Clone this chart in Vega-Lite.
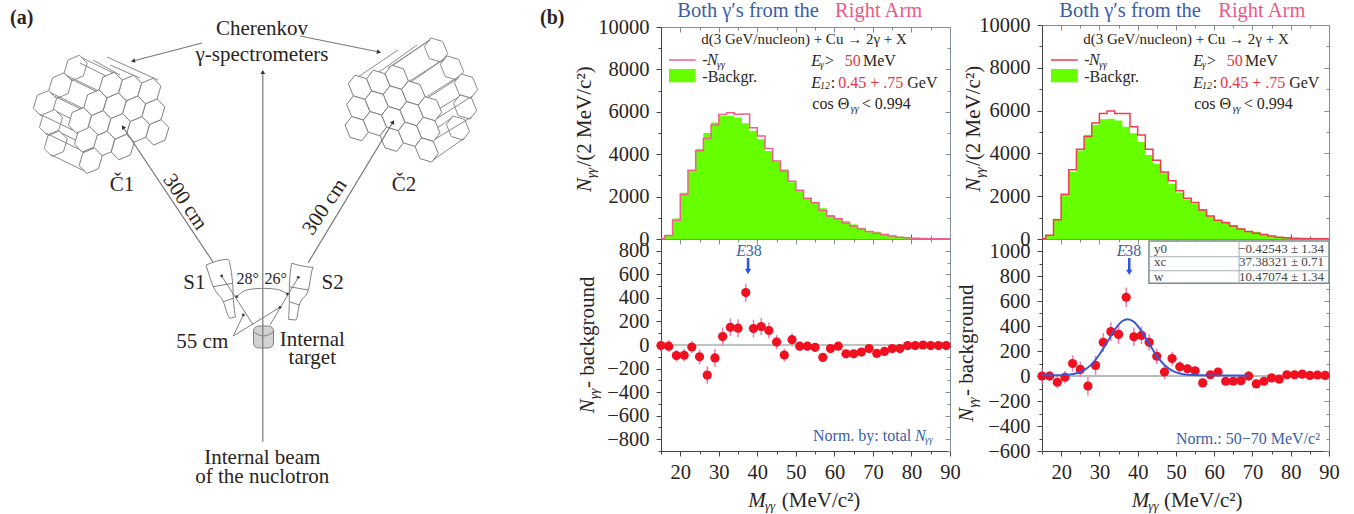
{"$schema":"https://vega.github.io/schema/vega-lite/v6.json","padding":0,"background":"white","config":{"view":{"stroke":null}},"spacing":-5,"hconcat":[
{"width":578,"height":514,
"encoding":{"x":{"field":"x","type":"quantitative","axis":null,"scale":{"domain":[0,578],"nice":false,"zero":false}},"y":{"field":"y","type":"quantitative","axis":null,"scale":{"domain":[0,514],"nice":false,"zero":false,"reverse":true}}},
"layer":[
{"data":{"values":[{"x":75.7,"y":68},{"x":60.3,"y":85.7},{"x":45,"y":103.3},{"x":51,"y":122.3},{"x":55.7,"y":143.7}]},"mark":{"type":"point","shape":"M-3.77,12.8L-11.53,4.9L-7.77,-7.9L3.77,-12.8L11.53,-4.9L7.77,7.9Z","filled":true,"fill":"#fff","stroke":"#8a8a8a","strokeWidth":1,"opacity":1,"size":4}},
{"data":{"values":[{"x":436,"y":50},{"x":452,"y":68},{"x":466,"y":86},{"x":465,"y":107},{"x":458,"y":128}]},"mark":{"type":"point","shape":"M5,12.1L11.67,3.56L6.67,-8.56L-5,-12.1L-11.67,-3.56L-6.67,8.56Z","filled":true,"fill":"#fff","stroke":"#8a8a8a","strokeWidth":1,"opacity":1,"size":4}},
{"data":{"values":[
{"x":115.9,"y":74.2,"x2":80.9,"y2":57.2},{"x":105.5,"y":95.8,"x2":70.5,"y2":78.8},{"x":100.5,"y":91.9,"x2":65.5,"y2":74.9},{"x":90.1,"y":113.5,"x2":55.1,"y2":96.5},{"x":85.2,"y":109.5,"x2":50.2,"y2":92.5},{"x":74.8,"y":131.1,"x2":39.8,"y2":114.1},{"x":91.2,"y":128.5,"x2":56.2,"y2":111.5},{"x":80.8,"y":150.1,"x2":45.8,"y2":133.1},{"x":95.9,"y":149.9,"x2":60.9,"y2":132.9},{"x":85.5,"y":171.5,"x2":50.5,"y2":154.5},
{"x":107,"y":57,"x2":158,"y2":80},{"x":93,"y":60,"x2":120,"y2":75},{"x":110,"y":65,"x2":140,"y2":78},{"x":80,"y":63,"x2":110,"y2":78},
{"x":403.2,"y":87.3,"x2":442.5,"y2":60},{"x":390.2,"y":67.3,"x2":429.5,"y2":40},{"x":419.8,"y":103,"x2":458.5,"y2":78},{"x":406.8,"y":83,"x2":445.5,"y2":58},{"x":436.5,"y":118.7,"x2":472.5,"y2":96},{"x":423.5,"y":98.7,"x2":459.5,"y2":76},{"x":434.8,"y":139.3,"x2":471.5,"y2":117},{"x":421.8,"y":119.3,"x2":458.5,"y2":97},{"x":433.2,"y":160,"x2":464.5,"y2":138},{"x":420.2,"y":140,"x2":451.5,"y2":118},
{"x":358,"y":77,"x2":398,"y2":50},{"x":375,"y":75,"x2":417,"y2":45},{"x":388,"y":68,"x2":430,"y2":40}
]},"mark":{"type":"rule","color":"#8a8a8a","strokeWidth":1},"encoding":{"x2":{"field":"x2"},"y2":{"field":"y2"}}},
{"data":{"values":[{"x":157.3,"y":132.3},{"x":153.3,"y":111.7},{"x":149.3,"y":91},{"x":138,"y":129.3},{"x":134,"y":108.7},{"x":130,"y":88},{"x":122.7,"y":147},{"x":118.7,"y":126.3},{"x":114.7,"y":105.7},{"x":110.7,"y":85},{"x":103.3,"y":144},{"x":99.3,"y":123.3},{"x":95.3,"y":102.7},{"x":86,"y":139.3},{"x":90.7,"y":160.7},{"x":80,"y":120.3}]},"mark":{"type":"point","shape":"M-3.77,12.8L-11.53,4.9L-7.77,-7.9L3.77,-12.8L11.53,-4.9L7.77,7.9Z","filled":true,"fill":"#fff","stroke":"#808080","strokeWidth":1,"opacity":1,"size":4}},
{"data":{"values":[{"x":360,"y":87.3},{"x":378.3,"y":82.3},{"x":396.7,"y":77.3},{"x":358.3,"y":108},{"x":376.7,"y":103},{"x":395,"y":98},{"x":413.3,"y":93},{"x":356.7,"y":128.7},{"x":375,"y":123.7},{"x":393.3,"y":118.7},{"x":411.7,"y":113.7},{"x":430,"y":108.7},{"x":391.7,"y":139.3},{"x":410,"y":134.3},{"x":428.3,"y":129.3},{"x":426.7,"y":150}]},"mark":{"type":"point","shape":"M5,12.1L11.67,3.56L6.67,-8.56L-5,-12.1L-11.67,-3.56L-6.67,8.56Z","filled":true,"fill":"#fff","stroke":"#808080","strokeWidth":1,"opacity":1,"size":4}},
{"data":{"values":[{"x":253.5,"y":326,"x2":273.5,"y2":348}]},"mark":{"type":"rect","fill":"#d2d2d2","stroke":"#808080","strokeWidth":1,"cornerRadius":5},"encoding":{"x2":{"field":"x2"},"y2":{"field":"y2"}}},
{"data":{"values":[{"x":262.8,"y":441.7,"x2":262.8,"y2":72},{"x":213,"y":262,"x2":123,"y2":127},{"x":308,"y":263,"x2":393,"y2":122},{"x":202,"y":43,"x2":133,"y2":61},{"x":300,"y":36,"x2":379,"y2":52}]},"mark":{"type":"rule","color":"#777777","strokeWidth":1.2},"encoding":{"x2":{"field":"x2"},"y2":{"field":"y2"}}},
{"data":{"values":[{"x":221.7,"y":276,"x2":253.3,"y2":325},{"x":298.3,"y":277.3,"x2":270,"y2":325},{"x":233.3,"y":336,"x2":243.3,"y2":315},{"x":233.3,"y":336,"x2":280,"y2":307.3}]},"mark":{"type":"rule","color":"#808080","strokeWidth":1},"encoding":{"x2":{"field":"x2"},"y2":{"field":"y2"}}},
{"data":{"values":[
{"g":"S1","i":0,"x":206,"y":265},{"g":"S1","i":1,"x":227.7,"y":259.3},{"g":"S1","i":2,"x":232.7,"y":283.3},{"g":"S1","i":3,"x":233.3,"y":298.3},{"g":"S1","i":4,"x":236,"y":316.7},{"g":"S1","i":5,"x":230,"y":318.3},{"g":"S1","i":6,"x":223.3,"y":301.7},{"g":"S1","i":7,"x":213.3,"y":286.7},{"g":"S1","i":8,"x":206,"y":265},
{"g":"S1a","i":0,"x":213.3,"y":286.7},{"g":"S1a","i":1,"x":232.7,"y":283.3},
{"g":"S1b","i":0,"x":223.3,"y":301.7},{"g":"S1b","i":1,"x":233.3,"y":298.3},
{"g":"S2","i":0,"x":291.7,"y":263.3},{"g":"S2","i":1,"x":313.3,"y":267.3},{"g":"S2","i":2,"x":308.3,"y":290},{"g":"S2","i":3,"x":299.3,"y":305},{"g":"S2","i":4,"x":296,"y":320},{"g":"S2","i":5,"x":288.3,"y":319.3},{"g":"S2","i":6,"x":289.3,"y":303.3},{"g":"S2","i":7,"x":289.3,"y":286.7},{"g":"S2","i":8,"x":291.7,"y":263.3},
{"g":"S2a","i":0,"x":289.3,"y":286.7},{"g":"S2a","i":1,"x":308.3,"y":290},
{"g":"S2b","i":0,"x":289.3,"y":301.7},{"g":"S2b","i":1,"x":299.3,"y":305},
{"g":"arc","i":0,"x":236.7,"y":296.7},{"g":"arc","i":1,"x":246.7,"y":290},{"g":"arc","i":2,"x":263.3,"y":288.3},{"g":"arc","i":3,"x":276.7,"y":289.3},{"g":"arc","i":4,"x":287.3,"y":294},
{"g":"t","i":0,"x":253.5,"y":332},{"g":"t","i":1,"x":263.5,"y":336},{"g":"t","i":2,"x":273.5,"y":332}
]},"mark":{"type":"line","color":"#808080","strokeWidth":1,"interpolate":"monotone"},"encoding":{"detail":{"field":"g"},"order":{"field":"i"}}},
{"data":{"values":[{"x":236.7,"y":296.7},{"x":287.3,"y":294},{"x":243.3,"y":315},{"x":280,"y":307.3},{"x":221.7,"y":276},{"x":298.3,"y":277.3}]},"mark":{"type":"point","filled":true,"color":"#444444","opacity":1,"size":8}},
{"data":{"values":[{"x":133,"y":61,"h":255.4},{"x":379,"y":52,"h":101.4},{"x":262.8,"y":72,"h":0},{"x":123,"y":127,"h":326.3},{"x":393,"y":122,"h":31}]},"mark":{"type":"point","shape":"triangle-up","filled":true,"color":"#333333","opacity":1,"size":22},"encoding":{"angle":{"field":"h","type":"quantitative","scale":null}}},
{"data":{"values":[{"x":10,"y":24,"t":"(a)"},{"x":540,"y":24,"t":"(b)"}]},"mark":{"type":"text","font":"Liberation Serif","fontWeight":"bold","fontSize":20,"align":"left","baseline":"alphabetic","color":"#2a2422"},"encoding":{"text":{"field":"t"}}},
{"data":{"values":[{"x":262,"y":35,"t":"Cherenkov"},{"x":262,"y":61,"t":"γ-spectrometers"},{"x":122,"y":191,"t":"Č1"},{"x":404,"y":191,"t":"Č2"},{"x":194.3,"y":289.3,"t":"S1"},{"x":332.7,"y":289.3,"t":"S2"},{"x":202.3,"y":348.3,"t":"55 cm"},{"x":312.3,"y":346,"t":"Internal"},{"x":312.3,"y":364.3,"t":"target"},{"x":262.3,"y":464.3,"t":"Internal beam"},{"x":262.3,"y":483.3,"t":"of the nuclotron"}]},"mark":{"type":"text","font":"Liberation Serif","fontSize":21,"align":"center","baseline":"alphabetic","color":"#2a2422"},"encoding":{"text":{"field":"t"}}},
{"data":{"values":[{"x":247.7,"y":284,"t":"28°"},{"x":275.7,"y":284,"t":"26°"}]},"mark":{"type":"text","font":"Liberation Serif","fontSize":16,"align":"center","baseline":"alphabetic","color":"#2a2422"},"encoding":{"text":{"field":"t"}}},
{"data":{"values":[{"x":185,"y":202,"t":"300 cm"}]},"mark":{"type":"text","font":"Liberation Serif","fontSize":21,"align":"center","baseline":"middle","angle":56,"color":"#2a2422"},"encoding":{"text":{"field":"t"}}},
{"data":{"values":[{"x":325,"y":207,"t":"300 cm"}]},"mark":{"type":"text","font":"Liberation Serif","fontSize":21,"align":"center","baseline":"middle","angle":304,"color":"#2a2422"},"encoding":{"text":{"field":"t"}}}
]},
{"spacing":0,"bounds":"flush","vconcat":[
{"width":289,"height":27,"encoding":{"x":{"field":"x","type":"quantitative","axis":null,"scale":{"domain":[15,90],"nice":false,"zero":false}},"y":{"field":"y","type":"quantitative","axis":null,"scale":{"domain":[0,1],"nice":false}},"text":{"field":"t"}},"layer":[
{"data":{"values":[{"x":19.23,"y":0.38,"t":"Both  γ′s from the"}]},"mark":{"type":"text","font":"Liberation Serif","fontSize":20.5,"align":"left","baseline":"alphabetic","color":"#3b5ea8"}},
{"data":{"values":[{"x":60.16,"y":0.38,"t":"Right Arm"}]},"mark":{"type":"text","font":"Liberation Serif","fontSize":20.5,"align":"left","baseline":"alphabetic","color":"#ee5a85"}}
]},
{"width":289,"height":212,"data":{"name":"L"},"resolve":{"axis":{"x":"independent","y":"independent"}},"layer":[
{"mark":{"type":"area","interpolate":"step","clip":true,"color":"#66ff00"},"encoding":{
"x":{"field":"m","type":"quantitative","scale":{"domain":[15,90],"nice":false,"zero":false},"axis":{"orient":"bottom","title":null,"grid":false,"labels":false,"values":[15,20,25,30,35,40,45,50,55,60,65,70,75,80,85,90],"tickSize":{"condition":{"test":"datum.value % 10 === 0","value":-5},"value":-3},"domainColor":"#333333","tickColor":"#555555"}},
"y":{"field":"bg","type":"quantitative","scale":{"domain":[0,10000],"nice":false},"axis":{"orient":"left","title":null,"grid":false,"values":[0,1000,2000,3000,4000,5000,6000,7000,8000,9000,10000],"labelExpr":"datum.value % 2000 === 0 ? format(datum.value,'d') : ''","tickSize":{"condition":{"test":"datum.value % 2000 === 0","value":5},"value":3},"labelPadding":7,"labelFont":"Liberation Serif","labelFontSize":20.5,"labelColor":"#2a2422","labelOverlap":false,"labelBound":false,"domainColor":"#444444","tickColor":"#444444"}}}},
{"mark":{"type":"line","interpolate":"step","clip":true,"color":"#f0608f","strokeWidth":1.5},"encoding":{
"x":{"field":"m","type":"quantitative","axis":{"orient":"top","title":null,"grid":false,"labels":false,"values":[15,20,25,30,35,40,45,50,55,60,65,70,75,80,85,90],"tickSize":{"condition":{"test":"datum.value % 10 === 0","value":-5},"value":-3},"domainColor":"#7f8f95","tickColor":"#7f8f95"}},
"y":{"field":"n","type":"quantitative","axis":{"orient":"right","title":null,"grid":false,"labels":false,"values":[0,1000,2000,3000,4000,5000,6000,7000,8000,9000,10000],"tickSize":{"condition":{"test":"datum.value % 2000 === 0","value":-5},"value":-3},"domainColor":"#7f8f95","tickColor":"#7f8f95"}}}},
{"encoding":{"x":{"field":"x","type":"quantitative","axis":null},"y":{"field":"y","type":"quantitative","axis":null}},"layer":[
{"data":{"values":[{"x":17.08,"x2":24,"y":8019,"y2":7392}]},"mark":{"type":"rect","color":"#66ff00"},"encoding":{"x2":{"field":"x2"},"y2":{"field":"y2"}}},
{"data":{"values":[{"x":17.08,"x2":24,"y":8443}]},"mark":{"type":"rule","color":"#f0608f","strokeWidth":1.5},"encoding":{"x2":{"field":"x2"}}},
{"data":{"values":[{"x":52.11,"y":9198,"t":"d(3 GeV/nucleon) + Cu → 2γ + X"}]},"mark":{"type":"text","font":"Liberation Serif","fontSize":15,"align":"center","baseline":"alphabetic","color":"#2a2422"},"encoding":{"text":{"field":"t"}}},
{"data":{"values":[{"x":25.72,"y":8208,"t":"-"},{"x":25.72,"y":7392,"t":"-Backgr."},{"x":57.56,"y":8160,"t":">"},{"x":67.43,"y":8160,"t":"MeV"},{"x":59.04,"y":7137,"t":":"},{"x":78.92,"y":7137,"t":"GeV"},{"x":54.27,"y":6132,"t":"cos Θ"},{"x":67.09,"y":6132,"t":"< 0.994"}]},"mark":{"type":"text","font":"Liberation Serif","fontSize":16,"align":"left","baseline":"alphabetic","color":"#2a2422"},"encoding":{"text":{"field":"t"}}},
{"data":{"values":[{"x":62.68,"y":8160,"t":"50"},{"x":61.02,"y":7137,"t":"0.45 + .75"}]},"mark":{"type":"text","font":"Liberation Serif","fontSize":16,"align":"left","baseline":"alphabetic","color":"#e8343f"},"encoding":{"text":{"field":"t"}}},
{"data":{"values":[{"x":26.94,"y":8208,"t":"N"},{"x":54.01,"y":8160,"t":"E"},{"x":54.01,"y":7137,"t":"E"}]},"mark":{"type":"text","font":"Liberation Serif","fontStyle":"italic","fontSize":16,"align":"left","baseline":"alphabetic","color":"#2a2422"},"encoding":{"text":{"field":"t"}}},
{"data":{"values":[{"x":29.53,"y":8066,"t":"γγ"},{"x":56.27,"y":8066,"t":"γ"},{"x":56.27,"y":7052,"t":"12"},{"x":64.23,"y":5991,"t":"γγ"}]},"mark":{"type":"text","font":"Liberation Serif","fontStyle":"italic","fontSize":10,"align":"left","baseline":"alphabetic","color":"#2a2422"},"encoding":{"text":{"field":"t"}}},
{"data":{"values":[{"x":-3.25,"y":2217,"t":"N"}]},"mark":{"type":"text","font":"Liberation Serif","fontStyle":"italic","fontSize":21,"align":"left","baseline":"alphabetic","angle":270,"color":"#2a2422"},"encoding":{"text":{"field":"t"}}},
{"data":{"values":[{"x":-2.2,"y":2877,"t":"γγ"}]},"mark":{"type":"text","font":"Liberation Serif","fontStyle":"italic","fontSize":13,"align":"left","baseline":"alphabetic","angle":270,"color":"#2a2422"},"encoding":{"text":{"field":"t"}}},
{"data":{"values":[{"x":-3.25,"y":3420,"t":"/(2 MeV/c²)"}]},"mark":{"type":"text","font":"Liberation Serif","fontSize":21,"align":"left","baseline":"alphabetic","angle":270,"color":"#2a2422"},"encoding":{"text":{"field":"t"}}}
]}
]},
{"width":289,"height":212,"data":{"name":"L"},"resolve":{"axis":{"x":"independent","y":"independent"}},"layer":[
{"data":{"values":[{"z":0}]},"mark":{"type":"rule","color":"#7e8c84","strokeWidth":1.2},"encoding":{"y":{"field":"z","type":"quantitative","axis":null}}},
{"mark":{"type":"rule","color":"#f27ab0","strokeWidth":1.5},"encoding":{
"x":{"field":"m","type":"quantitative","scale":{"domain":[15,90],"nice":false,"zero":false},"axis":{"orient":"bottom","title":null,"grid":false,"values":[15,20,25,30,35,40,45,50,55,60,65,70,75,80,85,90],"labelExpr":"datum.value % 10 === 0 ? format(datum.value,'d') : ''","tickSize":{"condition":{"test":"datum.value % 10 === 0","value":5},"value":3},"labelPadding":6,"labelFont":"Liberation Serif","labelFontSize":20.5,"labelColor":"#2a2422","labelOverlap":false,"labelBound":false,"labelFlush":false,"domainColor":"#444444","tickColor":"#444444"}},
"y":{"field":"lo","type":"quantitative","scale":{"domain":[-900,900],"nice":false,"zero":false},"axis":{"orient":"left","title":null,"grid":false,"values":[-900,-800,-700,-600,-500,-400,-300,-200,-100,0,100,200,300,400,500,600,700,800,900],"labelExpr":"datum.value % 200 === 0 ? replace(format(datum.value,'d'),'-','−') : ''","tickSize":{"condition":{"test":"datum.value % 200 === 0","value":5},"value":3},"labelPadding":7,"labelFont":"Liberation Serif","labelFontSize":20.5,"labelColor":"#2a2422","labelOverlap":false,"labelBound":false,"domainColor":"#444444","tickColor":"#444444"}},
"y2":{"field":"hi"}}},
{"mark":{"type":"point","filled":true,"color":"#f01020","opacity":1,"size":85},"encoding":{
"x":{"field":"m","type":"quantitative","axis":{"orient":"top","title":null,"grid":false,"labels":false,"values":[15,20,25,30,35,40,45,50,55,60,65,70,75,80,85,90],"tickSize":{"condition":{"test":"datum.value % 10 === 0","value":-5},"value":-3},"domainColor":"#7f8f95","tickColor":"#7f8f95"}},
"y":{"field":"d","type":"quantitative","axis":{"orient":"right","title":null,"grid":false,"labels":false,"values":[-900,-800,-700,-600,-500,-400,-300,-200,-100,0,100,200,300,400,500,600,700,800,900],"tickSize":{"condition":{"test":"datum.value % 200 === 0","value":-5},"value":-3},"domainColor":"#7f8f95","tickColor":"#7f8f95"}}}},
{"encoding":{"x":{"field":"x","type":"quantitative","axis":null},"y":{"field":"y","type":"quantitative","axis":null}},"layer":[
{"data":{"values":[{"x":37.6,"y":739,"y2":630}]},"mark":{"type":"rule","color":"#2a55e8","strokeWidth":2.5},"encoding":{"y2":{"field":"y2"}}},
{"data":{"values":[{"x":37.6,"y":625}]},"mark":{"type":"point","shape":"triangle-down","filled":true,"color":"#2a55e8","opacity":1,"size":40}},
{"data":{"values":[{"x":34.54,"y":758,"t":"E"},{"x":80.92,"y":-812,"t":"N"}]},"mark":{"type":"text","font":"Liberation Serif","fontStyle":"italic","fontSize":16,"align":"left","baseline":"alphabetic","color":"#3b5ea8"},"encoding":{"text":{"field":"t"}}},
{"data":{"values":[{"x":36.98,"y":758,"t":"38"},{"x":54.45,"y":-812,"t":"Norm. by: total"}]},"mark":{"type":"text","font":"Liberation Serif","fontSize":16,"align":"left","baseline":"alphabetic","color":"#3b5ea8"},"encoding":{"text":{"field":"t"}}},
{"data":{"values":[{"x":83.5,"y":-832,"t":"γγ"}]},"mark":{"type":"text","font":"Liberation Serif","fontStyle":"italic","fontSize":10,"align":"left","baseline":"alphabetic","color":"#3b5ea8"},"encoding":{"text":{"field":"t"}}},
{"data":{"values":[{"x":-2.39,"y":-580,"t":"N"}]},"mark":{"type":"text","font":"Liberation Serif","fontStyle":"italic","fontSize":21,"align":"left","baseline":"alphabetic","angle":270,"color":"#2a2422"},"encoding":{"text":{"field":"t"}}},
{"data":{"values":[{"x":-1.35,"y":-458,"t":"γγ"}]},"mark":{"type":"text","font":"Liberation Serif","fontStyle":"italic","fontSize":13,"align":"left","baseline":"alphabetic","angle":270,"color":"#2a2422"},"encoding":{"text":{"field":"t"}}},
{"data":{"values":[{"x":-2.39,"y":-365,"t":"- background"}]},"mark":{"type":"text","font":"Liberation Serif","fontSize":21,"align":"left","baseline":"alphabetic","angle":270,"color":"#2a2422"},"encoding":{"text":{"field":"t"}}},
{"data":{"values":[{"x":37.66,"y":-1373,"t":"M"}]},"mark":{"type":"text","font":"Liberation Serif","fontStyle":"italic","fontSize":21,"align":"left","baseline":"alphabetic","color":"#2a2422"},"encoding":{"text":{"field":"t"}}},
{"data":{"values":[{"x":41.99,"y":-1401,"t":"γγ"}]},"mark":{"type":"text","font":"Liberation Serif","fontStyle":"italic","fontSize":13,"align":"left","baseline":"alphabetic","color":"#2a2422"},"encoding":{"text":{"field":"t"}}},
{"data":{"values":[{"x":46.33,"y":-1373,"t":"(MeV/c²)"}]},"mark":{"type":"text","font":"Liberation Serif","fontSize":21,"align":"left","baseline":"alphabetic","color":"#2a2422"},"encoding":{"text":{"field":"t"}}}
]}
]}
]},
{"spacing":0,"bounds":"flush","vconcat":[
{"width":287,"height":25,"encoding":{"x":{"field":"x","type":"quantitative","axis":null,"scale":{"domain":[15,90],"nice":false,"zero":false}},"y":{"field":"y","type":"quantitative","axis":null,"scale":{"domain":[0,1],"nice":false}},"text":{"field":"t"}},"layer":[
{"data":{"values":[{"x":19.52,"y":0.33,"t":"Both  γ′s from the"}]},"mark":{"type":"text","font":"Liberation Serif","fontSize":20.5,"align":"left","baseline":"alphabetic","color":"#3b5ea8"}},
{"data":{"values":[{"x":61.05,"y":0.33,"t":"Right Arm"}]},"mark":{"type":"text","font":"Liberation Serif","fontSize":20.5,"align":"left","baseline":"alphabetic","color":"#ee5a85"}}
]},
{"width":287,"height":214,"data":{"name":"R"},"resolve":{"axis":{"x":"independent","y":"independent"}},"layer":[
{"mark":{"type":"area","interpolate":"step","clip":true,"color":"#66ff00"},"encoding":{
"x":{"field":"m","type":"quantitative","scale":{"domain":[15,90],"nice":false,"zero":false},"axis":{"orient":"bottom","title":null,"grid":false,"labels":false,"values":[15,20,25,30,35,40,45,50,55,60,65,70,75,80,85,90],"tickSize":{"condition":{"test":"datum.value % 10 === 0","value":-5},"value":-3},"domainColor":"#333333","tickColor":"#555555"}},
"y":{"field":"bg","type":"quantitative","scale":{"domain":[0,10000],"nice":false},"axis":{"orient":"left","title":null,"grid":false,"values":[0,1000,2000,3000,4000,5000,6000,7000,8000,9000,10000],"labelExpr":"datum.value % 2000 === 0 ? format(datum.value,'d') : ''","tickSize":{"condition":{"test":"datum.value % 2000 === 0","value":5},"value":3},"labelPadding":7,"labelFont":"Liberation Serif","labelFontSize":20.5,"labelColor":"#2a2422","labelOverlap":false,"labelBound":false,"domainColor":"#444444","tickColor":"#444444"}}}},
{"mark":{"type":"line","interpolate":"step","clip":true,"color":"#f03c50","strokeWidth":1.5},"encoding":{
"x":{"field":"m","type":"quantitative","axis":{"orient":"top","title":null,"grid":false,"labels":false,"values":[15,20,25,30,35,40,45,50,55,60,65,70,75,80,85,90],"tickSize":{"condition":{"test":"datum.value % 10 === 0","value":-5},"value":-3},"domainColor":"#7f8f95","tickColor":"#7f8f95"}},
"y":{"field":"n","type":"quantitative","axis":{"orient":"right","title":null,"grid":false,"labels":false,"values":[0,1000,2000,3000,4000,5000,6000,7000,8000,9000,10000],"tickSize":{"condition":{"test":"datum.value % 2000 === 0","value":-5},"value":-3},"domainColor":"#7f8f95","tickColor":"#7f8f95"}}}},
{"encoding":{"x":{"field":"x","type":"quantitative","axis":null},"y":{"field":"y","type":"quantitative","axis":null}},"layer":[
{"data":{"values":[{"x":17.35,"x2":24.33,"y":7944,"y2":7323}]},"mark":{"type":"rect","color":"#66ff00"},"encoding":{"x2":{"field":"x2"},"y2":{"field":"y2"}}},
{"data":{"values":[{"x":17.35,"x2":24.33,"y":8365}]},"mark":{"type":"rule","color":"#f03c50","strokeWidth":1.5},"encoding":{"x2":{"field":"x2"}}},
{"data":{"values":[{"x":52.62,"y":9112,"t":"d(3 GeV/nucleon) + Cu → 2γ + X"}]},"mark":{"type":"text","font":"Liberation Serif","fontSize":15,"align":"center","baseline":"alphabetic","color":"#2a2422"},"encoding":{"text":{"field":"t"}}},
{"data":{"values":[{"x":26.05,"y":8131,"t":"-"},{"x":26.05,"y":7323,"t":"-Backgr."},{"x":58.1,"y":8084,"t":">"},{"x":68.03,"y":8084,"t":"MeV"},{"x":59.6,"y":7070,"t":":"},{"x":79.6,"y":7070,"t":"GeV"},{"x":54.79,"y":6075,"t":"cos Θ"},{"x":67.69,"y":6075,"t":"< 0.994"}]},"mark":{"type":"text","font":"Liberation Serif","fontSize":16,"align":"left","baseline":"alphabetic","color":"#2a2422"},"encoding":{"text":{"field":"t"}}},
{"data":{"values":[{"x":63.25,"y":8084,"t":"50"},{"x":61.58,"y":7070,"t":"0.45 + .75"}]},"mark":{"type":"text","font":"Liberation Serif","fontSize":16,"align":"left","baseline":"alphabetic","color":"#e8343f"},"encoding":{"text":{"field":"t"}}},
{"data":{"values":[{"x":27.28,"y":8131,"t":"N"},{"x":54.53,"y":8084,"t":"E"},{"x":54.53,"y":7070,"t":"E"}]},"mark":{"type":"text","font":"Liberation Serif","fontStyle":"italic","fontSize":16,"align":"left","baseline":"alphabetic","color":"#2a2422"},"encoding":{"text":{"field":"t"}}},
{"data":{"values":[{"x":29.89,"y":7991,"t":"γγ"},{"x":56.8,"y":7991,"t":"γ"},{"x":56.8,"y":6986,"t":"12"},{"x":64.83,"y":5935,"t":"γγ"}]},"mark":{"type":"text","font":"Liberation Serif","fontStyle":"italic","fontSize":10,"align":"left","baseline":"alphabetic","color":"#2a2422"},"encoding":{"text":{"field":"t"}}},
{"data":{"values":[{"x":-1.2,"y":2210,"t":"N"}]},"mark":{"type":"text","font":"Liberation Serif","fontStyle":"italic","fontSize":21,"align":"left","baseline":"alphabetic","angle":270,"color":"#2a2422"},"encoding":{"text":{"field":"t"}}},
{"data":{"values":[{"x":-0.15,"y":2865,"t":"γγ"}]},"mark":{"type":"text","font":"Liberation Serif","fontStyle":"italic","fontSize":13,"align":"left","baseline":"alphabetic","angle":270,"color":"#2a2422"},"encoding":{"text":{"field":"t"}}},
{"data":{"values":[{"x":-1.2,"y":3411,"t":"/(2 MeV/c²)"}]},"mark":{"type":"text","font":"Liberation Serif","fontSize":21,"align":"left","baseline":"alphabetic","angle":270,"color":"#2a2422"},"encoding":{"text":{"field":"t"}}}
]}
]},
{"width":287,"height":212,"data":{"name":"R"},"resolve":{"axis":{"x":"independent","y":"independent"}},"layer":[
{"data":{"values":[{"z":0}]},"mark":{"type":"rule","color":"#6e7c74","strokeWidth":1.2},"encoding":{"y":{"field":"z","type":"quantitative","axis":null}}},
{"mark":{"type":"rule","color":"#f27ab0","strokeWidth":1.5},"encoding":{
"x":{"field":"m","type":"quantitative","scale":{"domain":[15,90],"nice":false,"zero":false},"axis":{"orient":"bottom","title":null,"grid":false,"values":[15,20,25,30,35,40,45,50,55,60,65,70,75,80,85,90],"labelExpr":"datum.value % 10 === 0 ? format(datum.value,'d') : ''","tickSize":{"condition":{"test":"datum.value % 10 === 0","value":5},"value":3},"labelPadding":6,"labelFont":"Liberation Serif","labelFontSize":20.5,"labelColor":"#2a2422","labelOverlap":false,"labelBound":false,"labelFlush":false,"domainColor":"#444444","tickColor":"#444444"}},
"y":{"field":"lo","type":"quantitative","scale":{"domain":[-600,1096],"nice":false,"zero":false},"axis":{"orient":"left","title":null,"grid":false,"values":[-600,-500,-400,-300,-200,-100,0,100,200,300,400,500,600,700,800,900,1000],"labelExpr":"datum.value % 200 === 0 ? replace(format(datum.value,'d'),'-','−') : ''","tickSize":{"condition":{"test":"datum.value % 200 === 0","value":5},"value":3},"labelPadding":7,"labelFont":"Liberation Serif","labelFontSize":20.5,"labelColor":"#2a2422","labelOverlap":false,"labelBound":false,"domainColor":"#444444","tickColor":"#444444"}},
"y2":{"field":"hi"}}},
{"mark":{"type":"point","filled":true,"color":"#f01020","opacity":1,"size":85},"encoding":{
"x":{"field":"m","type":"quantitative","axis":{"orient":"top","title":null,"grid":false,"labels":false,"values":[15,20,25,30,35,40,45,50,55,60,65,70,75,80,85,90],"tickSize":{"condition":{"test":"datum.value % 10 === 0","value":-5},"value":-3},"domainColor":"#7f8f95","tickColor":"#7f8f95"}},
"y":{"field":"d","type":"quantitative","axis":{"orient":"right","title":null,"grid":false,"labels":false,"values":[-600,-500,-400,-300,-200,-100,0,100,200,300,400,500,600,700,800,900,1000],"tickSize":{"condition":{"test":"datum.value % 200 === 0","value":-5},"value":-3},"domainColor":"#7f8f95","tickColor":"#7f8f95"}}}},
{"data":{"values":[{"m":15,"f":5},{"m":20,"f":7},{"m":22,"f":11},{"m":24,"f":22},{"m":26,"f":47},{"m":28,"f":95},{"m":30,"f":172},{"m":32,"f":270},{"m":34,"f":370},{"m":36,"f":440},{"m":37.4,"f":455},{"m":39,"f":434},{"m":41,"f":359},{"m":43,"f":258},{"m":45,"f":161},{"m":47,"f":88},{"m":49,"f":43},{"m":51,"f":20},{"m":53,"f":10},{"m":56,"f":6},{"m":60,"f":5},{"m":69,"f":5}]},"mark":{"type":"line","color":"#3a55d8","strokeWidth":2,"interpolate":"monotone"},"encoding":{"x":{"field":"m","type":"quantitative","axis":null},"y":{"field":"f","type":"quantitative","axis":null}}},
{"encoding":{"x":{"field":"x","type":"quantitative","axis":null},"y":{"field":"y","type":"quantitative","axis":null}},"layer":[
{"data":{"values":[{"x":42.95,"x2":90,"y":1080,"y2":742}]},"mark":{"type":"rect","fill":"#ffffff","stroke":"#7a8a90","strokeWidth":1.5},"encoding":{"x2":{"field":"x2"},"y2":{"field":"y2"}}},
{"data":{"values":[{"x":42.95,"x2":90,"y":954},{"x":42.95,"x2":90,"y":842}]},"mark":{"type":"rule","color":"#a4b2b6","strokeWidth":1},"encoding":{"x2":{"field":"x2"}}},
{"data":{"values":[{"x":66.5,"y":1080,"y2":742}]},"mark":{"type":"rule","color":"#a4b2b6","strokeWidth":1},"encoding":{"y2":{"field":"y2"}}},
{"data":{"values":[{"x":44.3,"y":982,"t":"y0"},{"x":44.3,"y":880,"t":"xc"},{"x":44.3,"y":762,"t":"w"}]},"mark":{"type":"text","font":"Liberation Serif","fontSize":13,"align":"left","baseline":"alphabetic","color":"#444444"},"encoding":{"text":{"field":"t"}}},
{"data":{"values":[{"x":88.7,"y":982,"t":"−0.42543 ± 1.34"},{"x":88.7,"y":880,"t":"37.38321 ± 0.71"},{"x":88.7,"y":762,"t":"10.47074 ± 1.34"}]},"mark":{"type":"text","font":"Liberation Serif","fontSize":13,"align":"right","baseline":"alphabetic","color":"#444444"},"encoding":{"text":{"field":"t"}}},
{"data":{"values":[{"x":37.8,"y":944,"y2":835}]},"mark":{"type":"rule","color":"#2a55e8","strokeWidth":2.5},"encoding":{"y2":{"field":"y2"}}},
{"data":{"values":[{"x":37.8,"y":829}]},"mark":{"type":"point","shape":"triangle-down","filled":true,"color":"#2a55e8","opacity":1,"size":40}},
{"data":{"values":[{"x":34.51,"y":962,"t":"E"}]},"mark":{"type":"text","font":"Liberation Serif","fontStyle":"italic","fontSize":16,"align":"left","baseline":"alphabetic","color":"#3b5ea8"},"encoding":{"text":{"field":"t"}}},
{"data":{"values":[{"x":36.76,"y":962,"t":"38"},{"x":50,"y":-546,"t":"Norm.: 50−70 MeV/c²"}]},"mark":{"type":"text","font":"Liberation Serif","fontSize":16,"align":"left","baseline":"alphabetic","color":"#3b5ea8"},"encoding":{"text":{"field":"t"}}},
{"data":{"values":[{"x":-3.03,"y":-366,"t":"N"}]},"mark":{"type":"text","font":"Liberation Serif","fontStyle":"italic","fontSize":21,"align":"left","baseline":"alphabetic","angle":270,"color":"#2a2422"},"encoding":{"text":{"field":"t"}}},
{"data":{"values":[{"x":-1.98,"y":-252,"t":"γγ"}]},"mark":{"type":"text","font":"Liberation Serif","fontStyle":"italic","fontSize":13,"align":"left","baseline":"alphabetic","angle":270,"color":"#2a2422"},"encoding":{"text":{"field":"t"}}},
{"data":{"values":[{"x":-3.03,"y":-160,"t":"- background"}]},"mark":{"type":"text","font":"Liberation Serif","fontSize":21,"align":"left","baseline":"alphabetic","angle":270,"color":"#2a2422"},"encoding":{"text":{"field":"t"}}},
{"data":{"values":[{"x":38.43,"y":-1046,"t":"M"}]},"mark":{"type":"text","font":"Liberation Serif","fontStyle":"italic","fontSize":21,"align":"left","baseline":"alphabetic","color":"#2a2422"},"encoding":{"text":{"field":"t"}}},
{"data":{"values":[{"x":42.77,"y":-1072,"t":"γγ"}]},"mark":{"type":"text","font":"Liberation Serif","fontStyle":"italic","fontSize":13,"align":"left","baseline":"alphabetic","color":"#2a2422"},"encoding":{"text":{"field":"t"}}},
{"data":{"values":[{"x":46.87,"y":-1046,"t":"(MeV/c²)"}]},"mark":{"type":"text","font":"Liberation Serif","fontSize":21,"align":"left","baseline":"alphabetic","color":"#2a2422"},"encoding":{"text":{"field":"t"}}}
]}
]}
]}
],
"datasets":{
"L":[{"m":13,"n":0,"bg":0},
{"m":15,"n":20,"bg":25,"d":-5,"lo":-50,"hi":40},{"m":17,"n":170,"bg":185,"d":-10,"lo":-60,"hi":40},{"m":19,"n":880,"bg":970,"d":-90,"lo":-140,"hi":-40},{"m":21,"n":2100,"bg":2187,"d":-87,"lo":-140,"hi":-34},{"m":23,"n":3240,"bg":3257,"d":-17,"lo":-70,"hi":36},{"m":25,"n":4160,"bg":4260,"d":-100,"lo":-165,"hi":-35},{"m":27,"n":4740,"bg":4995,"d":-255,"lo":-330,"hi":-180},{"m":29,"n":5380,"bg":5490,"d":-110,"lo":-185,"hi":-35},{"m":31,"n":5870,"bg":5798,"d":72,"lo":-5,"hi":149},{"m":33,"n":5960,"bg":5810,"d":150,"lo":75,"hi":225},{"m":35,"n":5880,"bg":5737,"d":143,"lo":68,"hi":218},{"m":37,"n":5900,"bg":5455,"d":445,"lo":368,"hi":522},{"m":39,"n":5250,"bg":5110,"d":140,"lo":65,"hi":215},{"m":41,"n":4860,"bg":4703,"d":157,"lo":85,"hi":229},{"m":43,"n":4270,"bg":4147,"d":123,"lo":55,"hi":191},{"m":45,"n":3680,"bg":3655,"d":25,"lo":-35,"hi":85},{"m":47,"n":3210,"bg":3295,"d":-85,"lo":-140,"hi":-30},{"m":49,"n":2720,"bg":2675,"d":45,"lo":-10,"hi":100},{"m":51,"n":2300,"bg":2310,"d":-10,"lo":-50,"hi":30},{"m":53,"n":1920,"bg":1930,"d":-10,"lo":-45,"hi":25},{"m":55,"n":1710,"bg":1730,"d":-20,"lo":-55,"hi":15},{"m":57,"n":1350,"bg":1455,"d":-105,"lo":-135,"hi":-75},{"m":59,"n":1090,"bg":1120,"d":-30,"lo":-60,"hi":0},{"m":61,"n":950,"bg":960,"d":-10,"lo":-35,"hi":15},{"m":63,"n":760,"bg":835,"d":-75,"lo":-100,"hi":-50},{"m":65,"n":610,"bg":685,"d":-75,"lo":-100,"hi":-50},{"m":67,"n":470,"bg":530,"d":-60,"lo":-80,"hi":-40},{"m":69,"n":350,"bg":380,"d":-30,"lo":-50,"hi":-10},{"m":71,"n":270,"bg":342,"d":-72,"lo":-90,"hi":-54},{"m":73,"n":205,"bg":260,"d":-55,"lo":-70,"hi":-40},{"m":75,"n":140,"bg":170,"d":-30,"lo":-45,"hi":-15},{"m":77,"n":80,"bg":110,"d":-30,"lo":-42,"hi":-18},{"m":79,"n":60,"bg":65,"d":-5,"lo":-15,"hi":5},{"m":81,"n":30,"bg":35,"d":-5,"lo":-13,"hi":3},{"m":83,"n":25,"bg":25,"d":0,"lo":-8,"hi":8},{"m":85,"n":15,"bg":20,"d":-5,"lo":-12,"hi":2},{"m":87,"n":10,"bg":15,"d":-5,"lo":-11,"hi":1},{"m":89,"n":10,"bg":15,"d":-5,"lo":-10,"hi":0},{"m":91,"n":5,"bg":10}],
"R":[{"m":13,"n":0,"bg":0},
{"m":15,"n":20,"bg":20,"d":0,"lo":-60,"hi":60},{"m":17,"n":170,"bg":170,"d":0,"lo":-40,"hi":40},{"m":19,"n":900,"bg":950,"d":-50,"lo":-100,"hi":0},{"m":21,"n":2090,"bg":2100,"d":-10,"lo":-60,"hi":40},{"m":23,"n":3240,"bg":3140,"d":100,"lo":35,"hi":165},{"m":25,"n":4190,"bg":4137,"d":53,"lo":-10,"hi":116},{"m":27,"n":4790,"bg":4870,"d":-80,"lo":-155,"hi":-5},{"m":29,"n":5420,"bg":5335,"d":85,"lo":10,"hi":160},{"m":31,"n":5870,"bg":5600,"d":270,"lo":195,"hi":345},{"m":33,"n":5980,"bg":5625,"d":355,"lo":280,"hi":430},{"m":35,"n":5870,"bg":5537,"d":333,"lo":258,"hi":408},{"m":37,"n":5870,"bg":5240,"d":630,"lo":552,"hi":708},{"m":39,"n":5250,"bg":4936,"d":314,"lo":240,"hi":388},{"m":41,"n":4860,"bg":4535,"d":325,"lo":255,"hi":395},{"m":43,"n":4190,"bg":3920,"d":270,"lo":205,"hi":335},{"m":45,"n":3680,"bg":3522,"d":158,"lo":95,"hi":221},{"m":47,"n":3130,"bg":3098,"d":32,"lo":-25,"hi":89},{"m":49,"n":2720,"bg":2580,"d":140,"lo":85,"hi":195},{"m":51,"n":2250,"bg":2176,"d":74,"lo":30,"hi":118},{"m":53,"n":1900,"bg":1842,"d":58,"lo":20,"hi":96},{"m":55,"n":1700,"bg":1658,"d":42,"lo":5,"hi":79},{"m":57,"n":1350,"bg":1405,"d":-55,"lo":-85,"hi":-25},{"m":59,"n":1070,"bg":1060,"d":10,"lo":-20,"hi":40},{"m":61,"n":880,"bg":848,"d":32,"lo":5,"hi":59},{"m":63,"n":760,"bg":802,"d":-42,"lo":-65,"hi":-19},{"m":65,"n":610,"bg":652,"d":-42,"lo":-65,"hi":-19},{"m":67,"n":470,"bg":507,"d":-37,"lo":-57,"hi":-17},{"m":69,"n":350,"bg":350,"d":0,"lo":-40,"hi":40},{"m":71,"n":270,"bg":333,"d":-63,"lo":-83,"hi":-43},{"m":73,"n":205,"bg":247,"d":-42,"lo":-57,"hi":-27},{"m":75,"n":140,"bg":155,"d":-15,"lo":-30,"hi":0},{"m":77,"n":80,"bg":105,"d":-25,"lo":-37,"hi":-13},{"m":79,"n":60,"bg":50,"d":10,"lo":0,"hi":20},{"m":81,"n":30,"bg":20,"d":10,"lo":2,"hi":18},{"m":83,"n":25,"bg":10,"d":15,"lo":7,"hi":23},{"m":85,"n":15,"bg":10,"d":5,"lo":-2,"hi":12},{"m":87,"n":10,"bg":2,"d":8,"lo":2,"hi":14},{"m":89,"n":10,"bg":5,"d":5,"lo":0,"hi":10},{"m":91,"n":5,"bg":5}]
}}
